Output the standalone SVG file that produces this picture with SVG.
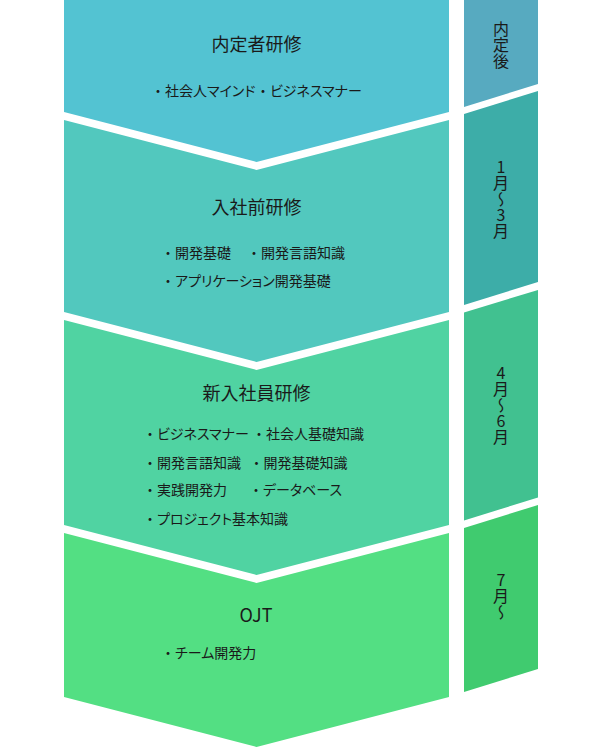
<svg xmlns="http://www.w3.org/2000/svg" width="600" height="751" viewBox="0 0 600 751">
<style>
text{font-family:"Noto Sans CJK JP","Noto Sans",sans-serif;fill:#1a1a1a;font-feature-settings:"palt"}
.t{font-size:18px;text-anchor:middle}
.b{font-size:14px}
.d{font-feature-settings:normal}
.v{font-size:16px;writing-mode:vertical-rl;text-orientation:upright;text-anchor:middle;font-feature-settings:normal}
</style>
<rect width="600" height="751" fill="#ffffff"/>
<g id="stage1">
<path d="M64,0 H449 V112 L256.5,162 L64,112 Z" fill="#53C3D2"/>
<text class="t" x="256.5" y="51">内定者研修</text>
<text class="b" x="151" y="95.5"><tspan class="d">・</tspan>社会人マインド</text>
<text class="b" x="256" y="95.5"><tspan class="d">・</tspan>ビジネスマナー</text>
</g>
<g id="stage2">
<path d="M64,120 L256.5,170 L449,120 V312 L256.5,362 L64,312 Z" fill="#52C8BE"/>
<text class="t" x="256.5" y="214">入社前研修</text>
<text class="b" x="161" y="257.5"><tspan class="d">・</tspan>開発基礎</text>
<text class="b" x="247" y="257.5"><tspan class="d">・</tspan>開発言語知識</text>
<text class="b" x="161" y="285.5"><tspan class="d">・</tspan>アプリケーション開発基礎</text>
</g>
<g id="stage3">
<path d="M64,320 L256.5,370 L449,320 V525 L256.5,575 L64,525 Z" fill="#50D3A2"/>
<text class="t" x="256.5" y="400">新入社員研修</text>
<text class="b" x="143" y="439"><tspan class="d">・</tspan>ビジネスマナー</text>
<text class="b" x="252" y="439"><tspan class="d">・</tspan>社会人基礎知識</text>
<text class="b" x="143" y="467.5"><tspan class="d">・</tspan>開発言語知識</text>
<text class="b" x="249.5" y="467.5"><tspan class="d">・</tspan>開発基礎知識</text>
<text class="b" x="143" y="495"><tspan class="d">・</tspan>実践開発力</text>
<text class="b" x="249" y="495"><tspan class="d">・</tspan>データベース</text>
<text class="b" x="143" y="524"><tspan class="d">・</tspan>プロジェクト基本知識</text>
</g>
<g id="stage4">
<path d="M64,533 L256.5,583 L449,533 V697 L256.5,747 L64,697 Z" fill="#53DF83"/>
<text class="t" x="256" y="621.5">OJT</text>
<text class="b" x="161" y="658"><tspan class="d">・</tspan>チーム開発力</text>
</g>
<g id="period1">
<path d="M464,0 H538 V84 L464,107 Z" fill="#57AAC0"/>
<text class="v" x="501" y="45">内定後</text>
</g>
<g id="period2">
<path d="M464,114 L538,91 V282 L464,305 Z" fill="#3DADA8"/>
<text class="v" x="501" y="199">1月〜3月</text>
</g>
<g id="period3">
<path d="M464,312.5 L538,290 V497.5 L464,520.5 Z" fill="#41C190"/>
<text class="v" x="501" y="404.5">4月〜6月</text>
</g>
<g id="period4">
<path d="M464,528 L538,505 V669 L464,692 Z" fill="#40CB6F"/>
<text class="v" x="501" y="596">7月〜</text>
</g>
</svg>
